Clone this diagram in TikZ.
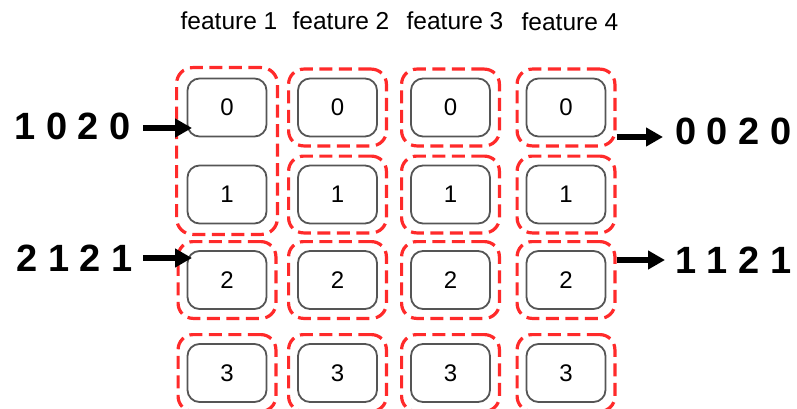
\documentclass[tikz,border=0pt]{standalone}
\usepackage{fontspec}
\setmainfont{Liberation Sans}
\usetikzlibrary{arrows.meta,fit}
\definecolor{boxgray}{HTML}{555555}
\definecolor{dashred}{HTML}{FF2A2A}
\tikzset{
  valbox/.style={draw=boxgray, line width=1.8pt, rounded corners=12pt,
    minimum width=79pt, minimum height=58pt, inner sep=0pt,
    font=\fontsize{24}{28}\selectfont},
  grp/.style={draw=dashred, line width=3.2pt, rounded corners=15pt,
    dash pattern=on 13pt off 6.5pt, inner sep=8.5pt},
  hdr/.style={inner sep=0pt, font=\fontsize{24.5}{28}\selectfont},
  code/.style={inner sep=0pt, font=\fontsize{38}{42}\selectfont\bfseries},
  arr/.style={line width=6pt, -{Triangle[length=17pt,width=18pt]}},
}
\begin{document}
\begin{tikzpicture}[x=1pt,y=-1pt]
\useasboundingbox (0,0) rectangle (797,409);

% column headers
\node[hdr] (h1) at (229,21) {feature 1};
\node[hdr] (h2) at (341,21) {feature 2};
\node[hdr] (h3) at (455,21) {feature 3};
\node[hdr] (h4) at (570,22) {feature 4};

% value boxes: b<column><row>
\foreach \c/\x in {1/227,2/337.5,3/450.5,4/566} {
  \foreach \r/\y in {0/107.5,1/194.5,2/280,3/373} {
    \node[valbox] (b\c\r) at (\x,\y) {\r};
  }
}

% dashed groups
\node[grp, inner sep=10pt, rounded corners=16pt, fit=(b10)(b11)] (g101) {};
\node[grp, fit=(b12)] (g12) {};
\node[grp, fit=(b13)] (g13) {};
\foreach \c in {2,3,4} {
  \foreach \r in {0,1,2,3} {
    \node[grp, fit=(b\c\r)] (g\c\r) {};
  }
}

% input codes
\node[code, anchor=east] (in1) at (131,126) {1 0 2 0};
\node[code, anchor=east] (in2) at (133,258) {2 1 2 1};
\coordinate (tip1) at (192,128);
\coordinate (tip2) at (192,258);
\draw[arr, shorten <=12pt] (in1.east |- tip1) -- (tip1);
\draw[arr, shorten <=10pt] (in2.east |- tip2) -- (tip2);

% output codes
\node[code, anchor=west] (out1) at (675,131) {0 0 2 0};
\node[code, anchor=west] (out2) at (675,260) {1 1 2 1};
\coordinate (end1) at (663,137);
\coordinate (end2) at (665,260);
\draw[arr] (g40.east |- end1) -- (end1);
\draw[arr] (g42.east |- end2) -- (end2);
\end{tikzpicture}
\end{document}
